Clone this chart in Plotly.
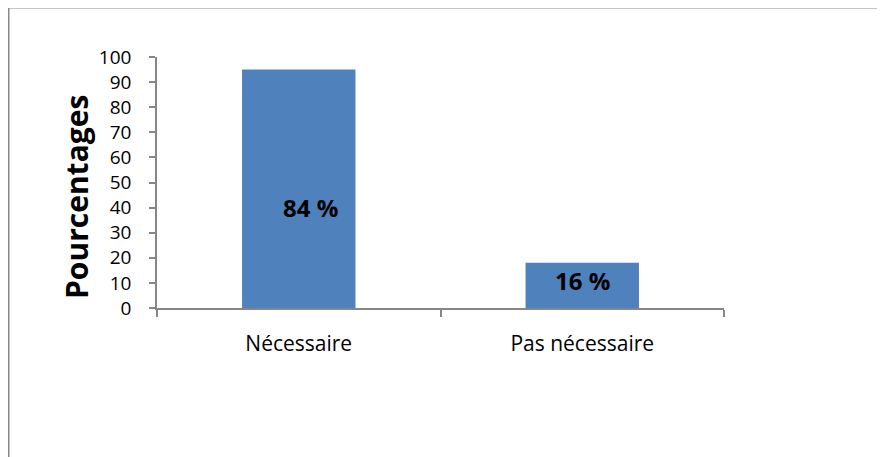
import plotly.graph_objects as go

categories = ["Nécessaire", "Pas nécessaire"]
bar_values = [95, 18]
label_texts = ["84 %", "16 %"]
label_y = [40, 11]
y_title = "Pourcentages"

OFF = 8  # browser body margin
W, H = 885 - OFF, 457 - OFF
L, R, T, B = 157 - OFF, 724 - OFF, 57 - OFF, 308 - OFF

fig = go.Figure()
fig.add_trace(go.Bar(
    x=categories, y=bar_values,
    marker=dict(color="#4F81BD", line=dict(width=0)),
    width=0.4, showlegend=False, hoverinfo="skip",
))
label_xshift = [12, 0]
for c, t, yy, xs in zip(categories, label_texts, label_y, label_xshift):
    fig.add_annotation(x=c, y=yy, text="<b>%s</b>" % t, showarrow=False, xshift=xs,
                       font=dict(family="Open Sans", size=24, color="black"))

def px2paper_x(px):
    return (px - OFF - L) / (R - L)

def px2paper_y(py):
    return (B - (py - OFF)) / (B - T)

# y-axis title
fig.add_annotation(xref="paper", yref="paper", x=px2paper_x(76), y=px2paper_y(197),
                   text="<b>%s</b>" % y_title, textangle=-90, showarrow=False,
                   xanchor="center", yanchor="middle",
                   font=dict(family="Open Sans", size=30, color="black"))

frame_col = "#898989"
fig.add_shape(type="line", xref="paper", yref="paper",
              x0=px2paper_x(8.5), x1=px2paper_x(8.5), y0=px2paper_y(470), y1=px2paper_y(7.5),
              line=dict(color=frame_col, width=2))
fig.add_shape(type="line", xref="paper", yref="paper",
              x0=px2paper_x(7.5), x1=px2paper_x(900), y0=px2paper_y(7.5), y1=px2paper_y(7.5),
              line=dict(color=frame_col, width=2))

fig.update_layout(
    width=W, height=H,
    margin=dict(l=L, r=W - R, t=T, b=H - B, pad=0),
    paper_bgcolor="white", plot_bgcolor="white",
    font=dict(family="Open Sans", color="black"),
    xaxis=dict(
        type="category", showgrid=False, showline=True, linecolor="#868686", linewidth=1.5,
        ticks="outside", tickson="boundaries", ticklen=7, tickcolor="#868686", tickwidth=1.5,
        tickfont=dict(size=21, color="black"), range=[-0.5, 1.5], ticklabelstandoff=16,
    ),
    yaxis=dict(
        range=[0, 100], dtick=10, showgrid=False, showline=True, linecolor="#868686", linewidth=1.5,
        ticks="outside", ticklen=6, tickcolor="#868686", tickwidth=1.5,
        tickfont=dict(size=19, color="black"), zeroline=False, ticklabelstandoff=14,
    ),
)

fig.write_html("out.html")
